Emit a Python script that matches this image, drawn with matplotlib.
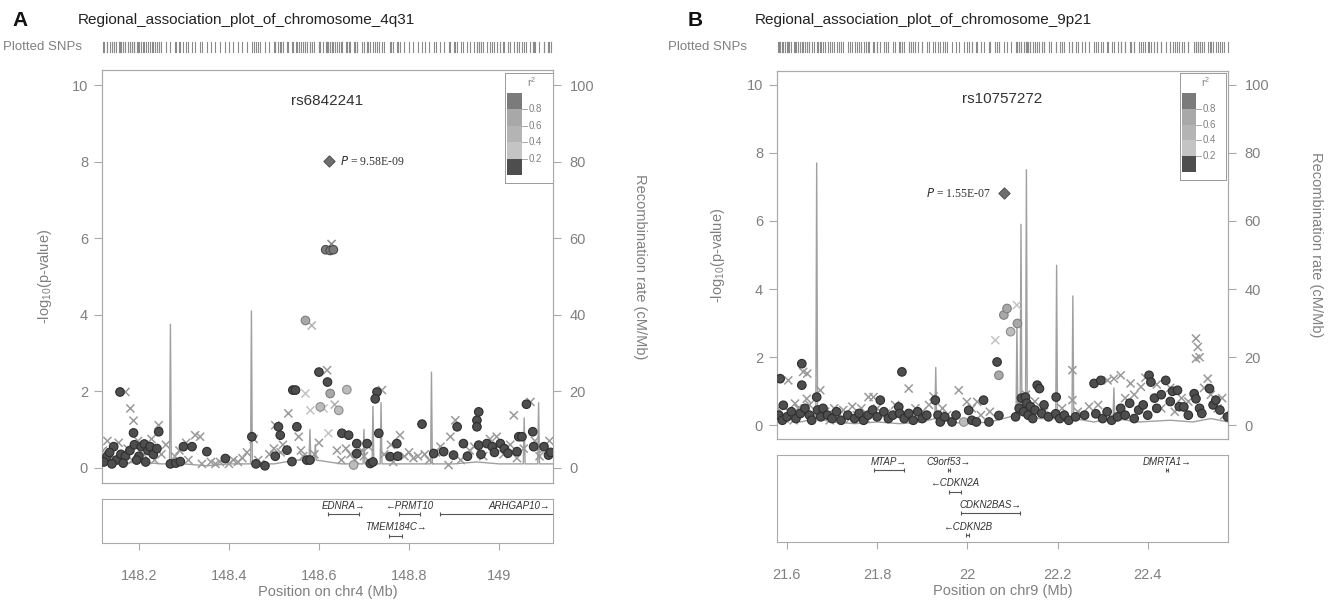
import matplotlib
matplotlib.use('Agg')
import matplotlib.pyplot as plt
import numpy as np
from matplotlib import transforms
from matplotlib.patches import Rectangle

plt.rcParams['font.family'] = ['Liberation Sans', 'DejaVu Sans']
plt.rcParams['mathtext.default'] = 'regular'

# ---------------- DATA: panel A (chr4q31) ----------------
a_title = "Regional_association_plot_of_chromosome_4q31"
a_lead_name = "rs6842241"
a_lead_x, a_lead_y = 148.622, 8.02
a_lead_label = "9.58E-09"
a_xticks = [148.2, 148.4, 148.6, 148.8, 149.0]
a_xticklabels = ["148.2", "148.4", "148.6", "148.8", "149"]
a_xlabel = "Position on chr4 (Mb)"

a_circ_x = [148.158, 148.188, 148.244, 148.144, 148.129, 148.135, 148.150, 148.160, 148.170, 148.180,
            148.190, 148.200, 148.205, 148.212, 148.220, 148.225, 148.232, 148.240, 148.122, 148.140,
            148.165, 148.195, 148.215, 148.270, 148.282, 148.292, 148.299, 148.318, 148.351, 148.392,
            148.451, 148.460, 148.480, 148.503, 148.510, 148.514, 148.529, 148.540, 148.542, 148.548,
            148.551, 148.573, 148.580, 148.570, 148.600, 148.619, 148.625, 148.662, 148.603, 148.644,
            148.615, 148.625, 148.632, 148.651, 148.666, 148.677, 148.684, 148.684, 148.707, 148.714,
            148.720, 148.729, 148.725, 148.733, 148.758, 148.775, 148.773, 148.829, 148.855, 148.877,
            148.899, 148.907, 148.921, 148.951, 148.955, 148.951, 148.955, 148.973, 148.985, 148.990,
            149.003, 149.012, 149.020, 149.040, 149.044, 149.051, 149.061, 149.075, 149.077, 149.100,
            149.110, 149.115, 148.930, 148.960]
a_circ_y = [1.98, 0.91, 0.94, 0.55, 0.29, 0.40, 0.20, 0.35, 0.30, 0.45,
            0.60, 0.30, 0.55, 0.62, 0.45, 0.55, 0.35, 0.50, 0.15, 0.10,
            0.12, 0.20, 0.15, 0.10, 0.12, 0.16, 0.55, 0.55, 0.42, 0.24,
            0.81, 0.10, 0.05, 0.30, 1.07, 0.85, 0.46, 0.16, 2.03, 2.03,
            1.07, 0.20, 0.20, 3.85, 2.50, 2.24, 1.94, 2.04, 1.59, 1.50,
            5.70, 5.68, 5.70, 0.90, 0.85, 0.07, 0.63, 0.37, 0.63, 0.11,
            0.15, 1.98, 1.80, 0.90, 0.29, 0.30, 0.63, 1.14, 0.37, 0.42,
            0.33, 1.07, 0.63, 1.24, 1.46, 1.07, 0.59, 0.63, 0.55, 0.40,
            0.63, 0.50, 0.38, 0.42, 0.81, 0.81, 1.66, 0.94, 0.55, 0.55,
            0.33, 0.40, 0.30, 0.35]
a_circ_r2 = [0.1] * 43 + [0.5, 0.1, 0.1, 0.4, 0.3, 0.3, 0.3,
                          0.9, 0.9, 0.9, 0.1, 0.1, 0.3] + [0.1] * 38

a_cross_x = [148.170, 148.181, 148.188, 148.244, 148.120, 148.130, 148.145, 148.155, 148.175, 148.185,
             148.198, 148.210, 148.228, 148.235, 148.250, 148.260, 148.280, 148.290, 148.305, 148.310,
             148.325, 148.336, 148.340, 148.360, 148.370, 148.380, 148.400, 148.410, 148.420, 148.430,
             148.440, 148.455, 148.465, 148.470, 148.490, 148.500, 148.503, 148.515, 148.520, 148.532,
             148.555, 148.560, 148.565, 148.570, 148.581, 148.584, 148.590, 148.600, 148.610, 148.618,
             148.621, 148.628, 148.635, 148.640, 148.650, 148.660, 148.670, 148.680, 148.695, 148.700,
             148.710, 148.740, 148.745, 148.760, 148.765, 148.780, 148.790, 148.800, 148.810, 148.820,
             148.835, 148.845, 148.860, 148.870, 148.888, 148.892, 148.903, 148.915, 148.935, 148.945,
             148.965, 148.980, 148.995, 149.010, 149.025, 149.033, 149.040, 149.055, 149.070, 149.080,
             149.090, 149.100, 149.112]
a_cross_y = [1.98, 1.55, 1.23, 1.11, 0.45, 0.70, 0.25, 0.65, 0.50, 0.20,
             0.70, 0.35, 0.75, 0.20, 0.35, 0.60, 0.30, 0.45, 0.65, 0.20,
             0.85, 0.81, 0.10, 0.15, 0.10, 0.15, 0.10, 0.20, 0.15, 0.25,
             0.40, 0.75, 0.20, 0.10, 0.35, 0.50, 1.11, 0.40, 0.60, 1.42,
             0.81, 0.45, 0.30, 1.94, 1.50, 3.72, 0.35, 0.65, 1.55, 2.55,
             0.90, 5.85, 1.65, 0.45, 0.20, 0.50, 0.35, 0.20, 0.45, 0.30,
             0.55, 2.03, 0.35, 0.60, 0.15, 0.85, 0.30, 0.40, 0.25, 0.30,
             0.35, 0.20, 0.40, 0.55, 0.07, 0.81, 1.24, 0.20, 0.45, 0.55,
             0.30, 0.75, 0.81, 0.35, 0.60, 1.37, 0.25, 0.50, 1.72, 0.70,
             0.30, 0.50, 0.70]
a_cross_r2 = [0.05] * 43 + [0.3, 0.3, 0.5, 0.1, 0.1, 0.3, 0.05, 0.3, 0.9, 0.4] + [0.05] * 40

a_rec_x = [148.118, 148.15, 148.20, 148.25, 148.268, 148.270, 148.272, 148.30, 148.35, 148.40,
           148.448, 148.450, 148.452, 148.50, 148.55, 148.578, 148.580, 148.582, 148.590, 148.592,
           148.594, 148.65, 148.698, 148.700, 148.702, 148.718, 148.720, 148.722, 148.736, 148.738,
           148.740, 148.80, 148.848, 148.850, 148.852, 148.90, 148.95, 149.00, 149.054, 149.056,
           149.058, 149.086, 149.088, 149.090, 149.12]
a_rec_y = [2.0, 1.0, 1.5, 1.0, 1.0, 37.5, 1.0, 1.0, 0.5, 1.0,
           1.0, 41.0, 1.0, 1.0, 2.0, 2.0, 10.0, 2.0, 2.0, 6.0,
           2.0, 1.0, 1.0, 10.0, 1.0, 1.0, 16.0, 1.0, 1.0, 17.0,
           1.0, 1.0, 1.0, 25.0, 1.0, 1.0, 1.5, 1.0, 1.0, 13.0,
           1.0, 1.0, 17.0, 1.0, 1.0]

a_gene_names = ["EDNRA", "PRMT10", "ARHGAP10", "TMEM184C"]
a_gene_start = [148.621, 148.777, 148.869, 148.756]
a_gene_end = [148.688, 148.825, 149.220, 148.784]
a_gene_strand = [1, -1, 1, 1]
a_gene_row = [0, 0, 0, 1]

# ---------------- DATA: panel B (chr9p21) ----------------
b_title = "Regional_association_plot_of_chromosome_9p21"
b_lead_name = "rs10757272"
b_lead_x, b_lead_y = 22.082, 6.81
b_lead_label = "1.55E-07"
b_xticks = [21.6, 21.8, 22.0, 22.2, 22.4]
b_xticklabels = ["21.6", "21.8", "22", "22.2", "22.4"]
b_xlabel = "Position on chr9 (Mb)"

b_circ_x = [21.585, 21.592, 21.633, 21.633, 21.666, 21.582, 21.590, 21.600, 21.610, 21.620,
            21.630, 21.640, 21.650, 21.655, 21.668, 21.675, 21.680, 21.690, 21.700, 21.710,
            21.720, 21.735, 21.750, 21.760, 21.770, 21.780, 21.790, 21.800, 21.807, 21.815,
            21.825, 21.835, 21.848, 21.850, 21.855, 21.860, 21.870, 21.880, 21.890, 21.900,
            21.910, 21.929, 21.935, 21.940, 21.950, 21.966, 21.975, 21.992, 22.003, 22.010,
            22.020, 22.036, 22.048, 22.070, 22.066, 22.070, 22.081, 22.088, 22.096, 22.111,
            22.107, 22.115, 22.120, 22.125, 22.129, 22.132, 22.135, 22.140, 22.145, 22.150,
            22.155, 22.160, 22.165, 22.170, 22.180, 22.196, 22.197, 22.205, 22.215, 22.225,
            22.240, 22.260, 22.281, 22.285, 22.296, 22.300, 22.310, 22.320, 22.333, 22.340,
            22.350, 22.360, 22.370, 22.380, 22.390, 22.400, 22.403, 22.407, 22.415, 22.420,
            22.430, 22.440, 22.450, 22.455, 22.466, 22.470, 22.480, 22.490, 22.503, 22.507,
            22.515, 22.520, 22.537, 22.545, 22.551, 22.560, 22.577]
b_circ_y = [1.37, 0.59, 1.81, 1.18, 0.83, 0.30, 0.15, 0.25, 0.40, 0.20,
            0.35, 0.50, 0.30, 0.15, 0.45, 0.25, 0.50, 0.30, 0.20, 0.40,
            0.15, 0.30, 0.20, 0.35, 0.15, 0.30, 0.45, 0.25, 0.74, 0.40,
            0.20, 0.30, 0.54, 0.35, 1.57, 0.20, 0.35, 0.15, 0.40, 0.20,
            0.30, 0.74, 0.30, 0.10, 0.25, 0.10, 0.30, 0.10, 0.44, 0.15,
            0.10, 0.74, 0.10, 0.29, 1.86, 1.47, 3.24, 3.43, 2.75, 2.99,
            0.25, 0.50, 0.80, 0.40, 0.83, 0.65, 0.30, 0.55, 0.20, 0.45,
            1.18, 1.08, 0.35, 0.60, 0.25, 0.34, 0.83, 0.20, 0.30, 0.15,
            0.25, 0.30, 1.23, 0.34, 1.32, 0.20, 0.40, 0.15, 0.25, 0.50,
            0.30, 0.65, 0.20, 0.45, 0.60, 0.30, 1.47, 1.27, 0.80, 0.50,
            0.90, 1.32, 0.70, 1.00, 1.03, 0.55, 0.54, 0.30, 0.93, 0.78,
            0.50, 0.35, 1.08, 0.60, 0.74, 0.45, 0.25]
b_circ_r2 = [0.1] * 47 + [0.3] + [0.1] * 7 + [0.5, 0.5, 0.5, 0.2, 0.5] + [0.1] * 57

b_cross_x = [21.603, 21.636, 21.645, 21.618, 21.644, 21.674, 21.580, 21.595, 21.605, 21.615,
             21.625, 21.650, 21.660, 21.685, 21.695, 21.705, 21.715, 21.725, 21.740, 21.745,
             21.755, 21.765, 21.775, 21.781, 21.792, 21.800, 21.820, 21.840, 21.870, 21.875,
             21.885, 21.900, 21.915, 21.925, 21.945, 21.955, 21.981, 21.999, 22.010, 22.022,
             22.030, 22.050, 22.062, 22.110, 22.118, 22.130, 22.140, 22.150, 22.170, 22.185,
             22.210, 22.233, 22.233, 22.245, 22.255, 22.270, 22.290, 22.311, 22.325, 22.340,
             22.350, 22.362, 22.370, 22.385, 22.395, 22.420, 22.430, 22.450, 22.460, 22.475,
             22.490, 22.507, 22.511, 22.507, 22.515, 22.525, 22.533, 22.540, 22.555, 22.565,
             22.570]
b_cross_y = [1.32, 1.57, 1.52, 0.64, 0.78, 1.03, 0.50, 0.20, 0.40, 0.15,
             0.50, 0.60, 0.30, 0.40, 0.15, 0.50, 0.30, 0.45, 0.20, 0.55,
             0.30, 0.50, 0.20, 0.83, 0.83, 0.50, 0.35, 0.60, 1.08, 0.30,
             0.50, 0.40, 0.60, 0.85, 0.50, 0.30, 1.03, 0.69, 0.50, 0.69,
             0.30, 0.40, 2.50, 3.53, 0.60, 0.90, 0.30, 0.70, 0.40, 0.30,
             0.50, 1.62, 0.74, 0.40, 0.30, 0.55, 0.60, 1.32, 1.37, 1.47,
             0.80, 1.23, 0.90, 1.13, 1.40, 1.20, 0.50, 1.10, 0.40, 0.80,
             0.70, 2.55, 2.30, 1.96, 2.00, 1.10, 1.37, 0.90, 0.50, 0.80,
             0.30]
b_cross_r2 = [0.05] * 42 + [0.3, 0.3] + [0.05] * 37

b_rec_x = [21.578, 21.600, 21.630, 21.664, 21.666, 21.668, 21.700, 21.750, 21.800, 21.850,
           21.900, 21.928, 21.930, 21.932, 21.960, 22.000, 22.050, 22.080, 22.108, 22.110,
           22.112, 22.117, 22.119, 22.121, 22.129, 22.131, 22.133, 22.160, 22.196, 22.198,
           22.200, 22.232, 22.234, 22.236, 22.280, 22.323, 22.325, 22.327, 22.380, 22.450,
           22.500, 22.540, 22.578]
b_rec_y = [1.5, 2.0, 1.0, 2.0, 77.0, 2.0, 1.0, 0.5, 1.0, 0.5,
           1.0, 2.0, 17.0, 2.0, 1.0, 0.5, 1.0, 2.0, 3.0, 30.0,
           3.0, 3.0, 59.0, 3.0, 3.0, 75.0, 3.0, 2.0, 2.0, 47.0,
           2.0, 2.0, 38.0, 2.0, 1.0, 2.0, 11.0, 2.0, 1.0, 1.5,
           1.0, 2.0, 1.0]

b_gene_names = ["MTAP", "C9orf53", "CDKN2A", "CDKN2BAS", "CDKN2B", "DMRTA1"]
b_gene_start = [21.794, 21.957, 21.959, 21.985, 21.996, 22.440]
b_gene_end = [21.859, 21.961, 21.985, 22.117, 22.003, 22.445]
b_gene_strand = [1, 1, -1, 1, -1, 1]
b_gene_row = [0, 0, 1, 2, 3, 0]

r2_bounds = [0.2, 0.4, 0.6, 0.8]
r2_ticklabels = ["0.2", "0.4", "0.6", "0.8"]

# ---------------- STYLE ----------------
FILL = ['#4e4e4e', '#bcbcbc', '#a8a8a8', '#c6c6c6', '#7b7b7b']
EDGE = ['#2e2e2e', '#8e8e8e', '#808080', '#949494', '#4a4a4a']
CROSS = ['#9a9a9a', '#c4c4c4', '#b2b2b2', '#cccccc', '#8a8a8a']
BAR = ['#4e4e4e', '#c4c4c4', '#b4b4b4', '#a8a8a8', '#7b7b7b']
GRAY_TXT = '#808080'
SPINE = '#aaaaaa'

W, H = 1339, 600
fig = plt.figure(figsize=(W / 100, H / 100), dpi=100)


def box(l, t, r, b):
    return [l / W, 1 - b / H, (r - l) / W, (b - t) / H]


def r2_bin(v):
    return int(np.searchsorted(r2_bounds, v, side='right'))


def panel(letter, letter_x, title, title_x, main_px, gene_px, legend_px, xlim,
          cx, cy, cr, xx, xy, xr, rx, ry, lead_x, lead_y, lead_name, lead_label, lead_left,
          gnames, gstart, gend, gstrand, grow, xticks, xticklabels, xlabel,
          snp_text_x, ylab_x, rylab_x):
    ax = fig.add_axes(box(*main_px))
    ax.set_xlim(*xlim)
    ax.set_ylim(-0.4, 10.4)
    rax = ax.twinx()
    rax.set_ylim(-4, 104)
    rax.plot(rx, ry, color='#a0a0a0', lw=1.0, zorder=1)
    ax.set_zorder(rax.get_zorder() + 1)
    ax.patch.set_visible(False)

    # imputed SNPs (crosses)
    ccol = [CROSS[r2_bin(v)] for v in xr]
    ax.scatter(xx, xy, marker='x', s=34, c=ccol, linewidths=1.1, zorder=2)
    # typed SNPs (circles)
    fcol = [FILL[r2_bin(v)] for v in cr]
    ecol = [EDGE[r2_bin(v)] for v in cr]
    ax.scatter(cx, cy, marker='o', s=38, c=fcol, edgecolors=ecol, linewidths=0.8, zorder=3)
    # lead SNP
    ax.scatter([lead_x], [lead_y], marker='D', s=34, c='#6e6e6e', edgecolors='#4a4a4a',
               linewidths=0.6, zorder=4)
    ptxt = r'$\it{P}$ = ' + lead_label
    serif = ['Liberation Serif', 'DejaVu Serif']
    if lead_left:
        ax.annotate(ptxt, (lead_x, lead_y), xytext=(-10, 0), textcoords='offset points',
                    ha='right', va='center', fontsize=8.5, family=serif, color='#333333')
    else:
        ax.annotate(ptxt, (lead_x, lead_y), xytext=(8, 0), textcoords='offset points',
                    ha='left', va='center', fontsize=8.5, family=serif, color='#333333')
    ax.text(0.5, 0.925, lead_name, transform=ax.transAxes, ha='center', va='center',
            fontsize=11, color='#333333')

    for a in (ax, rax):
        for s in a.spines.values():
            s.set_color(SPINE)
            s.set_linewidth(0.8)
    ax.set_xticks([])
    ax.set_yticks([0, 2, 4, 6, 8, 10])
    ax.tick_params(axis='y', colors=SPINE, labelcolor=GRAY_TXT, labelsize=10.5, length=6, pad=4)
    rax.set_yticks([0, 20, 40, 60, 80, 100])
    rax.tick_params(axis='y', colors=SPINE, labelcolor=GRAY_TXT, labelsize=10.5, length=6, pad=6)

    fig.text(ylab_x / W, 1 - ((main_px[1] + main_px[3]) / 2) / H, '-log$_{10}$(p-value)',
             rotation=90, ha='center', va='center', fontsize=10.5, color=GRAY_TXT)
    fig.text(rylab_x / W, 1 - ((main_px[1] + main_px[3]) / 2 - 10) / H, 'Recombination rate (cM/Mb)',
             rotation=270, ha='center', va='center', fontsize=10.5, color=GRAY_TXT)

    # legend box with r2 colour bar
    l, t, r, b = legend_px
    lax = fig.add_axes(box(l, t, r, b))
    lax.set_xlim(0, 1)
    lax.set_ylim(0, 1)
    lax.set_xticks([])
    lax.set_yticks([])
    for s in lax.spines.values():
        s.set_color('#999999')
        s.set_linewidth(0.7)
        s.set_linestyle((0, (1.5, 1)))
    bh = b - t
    y0 = 8 / bh
    y1 = 1 - 20 / bh
    edges = [0.0] + r2_bounds + [1.0]
    for i in range(5):
        ya = y0 + (y1 - y0) * edges[i]
        yb = y0 + (y1 - y0) * edges[i + 1]
        lax.add_patch(Rectangle((0.05, ya), 0.3, yb - ya, facecolor=BAR[i], edgecolor='none'))
    for v, lab in zip(r2_bounds, r2_ticklabels):
        yy = y0 + (y1 - y0) * v
        lax.plot([0.35, 0.45], [yy, yy], color='#999999', lw=0.6)
        lax.text(0.5, yy, lab, ha='left', va='center', fontsize=7, color=GRAY_TXT)
    lax.text(0.55, 1 - 9 / bh, r'$r^2$', ha='center', va='center', fontsize=7.5, color=GRAY_TXT)

    # gene track
    gax = fig.add_axes(box(*gene_px))
    gh = gene_px[3] - gene_px[1]
    gax.set_xlim(*xlim)
    gax.set_ylim(gh, 0)
    gax.set_yticks([])
    for s in gax.spines.values():
        s.set_color(SPINE)
        s.set_linewidth(0.8)
    for name, s0, s1, st, rw in zip(gnames, gstart, gend, gstrand, grow):
        ly = 7 + rw * 21.5
        gy = 15 + rw * 21.5
        gax.plot([s0, s1], [gy, gy], color='#555555', lw=0.8, solid_capstyle='butt')
        gax.plot([s0, s1], [gy, gy], marker='|', ms=3.5, mew=0.8, ls='none', color='#555555')
        lab = name + '\u2192' if st > 0 else '\u2190' + name
        mid = (s0 + min(s1, xlim[1] + 0.1)) / 2
        gax.text(mid, ly, lab, ha='center', va='center', fontsize=7, style='italic',
                 color='#333333', clip_on=False)
    gax.set_xticks(xticks)
    gax.set_xticklabels(xticklabels)
    gax.tick_params(axis='x', colors=SPINE, labelcolor=GRAY_TXT, labelsize=10.5, length=5, pad=14)
    gax.set_xlabel(xlabel, fontsize=10.5, color=GRAY_TXT, labelpad=1)

    # titles
    fig.text(letter_x / W, 1 - 20 / H, letter, fontsize=15, fontweight='bold', ha='left',
             va='center', color='#111111')
    fig.text(title_x / W, 1 - 20 / H, title, fontsize=11, ha='left', va='center', color='#222222')
    fig.text(snp_text_x / W, 1 - 47 / H, 'Plotted SNPs', fontsize=9.5, ha='left', va='center',
             color=GRAY_TXT)
    trans = transforms.blended_transform_factory(ax.transData, fig.transFigure)
    allx = list(cx) + list(xx)
    for xv in allx:
        fig.add_artist(plt.Line2D([xv, xv], [1 - 52 / H, 1 - 42 / H], transform=trans,
                                  color='#8a8a8a', lw=0.8))


panel('A', 12, a_title, 78, (102, 70, 553, 483), (102, 499, 553, 543), (505, 73, 553, 183),
      (148.118, 149.12), a_circ_x, a_circ_y, a_circ_r2, a_cross_x, a_cross_y, a_cross_r2,
      a_rec_x, a_rec_y, a_lead_x, a_lead_y, a_lead_name, a_lead_label, False,
      a_gene_names, a_gene_start, a_gene_end, a_gene_strand, a_gene_row,
      a_xticks, a_xticklabels, a_xlabel, 3, 45, 640)

panel('B', 688, b_title, 755, (777, 71, 1228, 439), (777, 455, 1228, 542), (1180, 73, 1226, 180),
      (21.578, 22.578), b_circ_x, b_circ_y, b_circ_r2, b_cross_x, b_cross_y, b_cross_r2,
      b_rec_x, b_rec_y, b_lead_x, b_lead_y, b_lead_name, b_lead_label, True,
      b_gene_names, b_gene_start, b_gene_end, b_gene_strand, b_gene_row,
      b_xticks, b_xticklabels, b_xlabel, 668, 718, 1316)

fig.savefig('out.png', dpi=100)
